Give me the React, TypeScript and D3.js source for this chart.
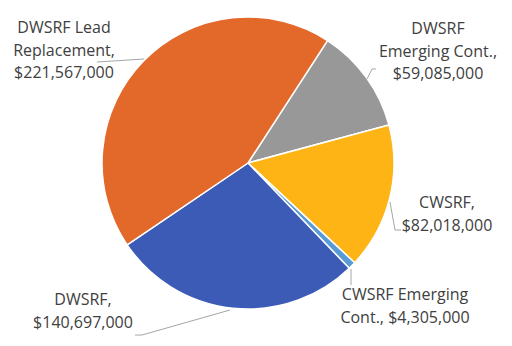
import React from "react";
import * as d3 from "d3";

const categories = [
  "DWSRF Emerging Cont.",
  "CWSRF",
  "CWSRF Emerging Cont.",
  "DWSRF",
  "DWSRF Lead Replacement",
];
const values = [59085000, 82018000, 4305000, 140697000, 221567000];
const labelLines = [
  ["DWSRF", "Emerging Cont.,", "$59,085,000"],
  ["CWSRF,", "$82,018,000"],
  ["CWSRF Emerging", "Cont., $4,305,000"],
  ["DWSRF,", "$140,697,000"],
  ["DWSRF Lead", "Replacement,", "$221,567,000"],
];
const colors = ["#989898", "#FDB414", "#5B9BD5", "#3B5BB7", "#E3692B"];

// layout (not data)
const labelPos = [
  { x: 438, y: 34 },
  { x: 447, y: 208 },
  { x: 405, y: 300 },
  { x: 83, y: 305 },
  { x: 64, y: 33 },
];
const leaders = [
  [[367, 79], [372, 69], [376, 69]],
  [[390, 202], [395, 230], [401, 230]],
  [[351, 269], [351, 285]],
  [[230, 310], [142, 335], [135, 335]],
  [[144, 59], [97, 62]],
];

export default function App() {
  const W = 512, H = 346;
  const cx = 248, cy = 163, r = 146;
  const start = (33 * Math.PI) / 180;
  const pie = d3.pie<number>().sort(null).value((d) => d).startAngle(start).endAngle(start + 2 * Math.PI);
  const arcs = pie(values);
  const arc = d3.arc<d3.PieArcDatum<number>>().innerRadius(0).outerRadius(r);
  const line = d3.line();
  return (
    <svg width={W} height={H} style={{ position: "absolute", left: 0, top: 0, background: "#fff" }}>
      <g transform={`translate(${cx},${cy})`}>
        {arcs.map((a, i) => (
          <path key={categories[i]} d={arc(a) || ""} fill={colors[i]} stroke="#fff" strokeWidth={1.5} strokeLinejoin="round" />
        ))}
      </g>
      {leaders.map((pts, i) => (
        <path key={i} d={line(pts as [number, number][]) || ""} fill="none" stroke="#A6A6A6" strokeWidth={1} />
      ))}
      {labelLines.map((lines, i) => (
        <text key={i} x={labelPos[i].x} y={labelPos[i].y} textAnchor="middle" fontFamily="Open Sans" fontSize={16} fill="#404040">
          {lines.map((l, j) => (
            <tspan key={j} x={labelPos[i].x} dy={j === 0 ? 0 : 22.5}>{l}</tspan>
          ))}
        </text>
      ))}
    </svg>
  );
}
